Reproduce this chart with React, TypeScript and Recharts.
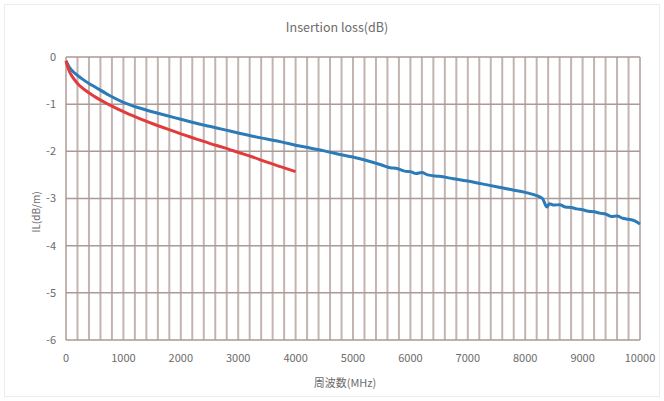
import React from 'react';
import { LineChart, Line, XAxis, YAxis, CartesianGrid } from 'recharts';

// frequency (MHz) / insertion loss (dB/m)
const blueFreq = [0, 50, 100, 200, 300, 400, 500, 750, 1000, 1250, 1500, 1750, 2000, 2250, 2500, 2750, 3000, 3250, 3500, 3750, 4000, 4250, 4500, 4750, 5000, 5250, 5500, 5650, 5750, 5900, 6000, 6100, 6200, 6300, 6500, 6750, 7000, 7250, 7500, 7750, 8000, 8200, 8300, 8380, 8420, 8500, 8600, 8700, 8800, 8900, 9000, 9100, 9200, 9300, 9400, 9500, 9600, 9700, 9800, 9900, 10000];
const blueLoss = [-0.08, -0.2, -0.28, -0.39, -0.48, -0.56, -0.63, -0.81, -0.96, -1.07, -1.16, -1.24, -1.32, -1.4, -1.47, -1.54, -1.61, -1.68, -1.74, -1.8, -1.87, -1.93, -1.99, -2.06, -2.12, -2.2, -2.29, -2.35, -2.36, -2.42, -2.43, -2.47, -2.45, -2.5, -2.53, -2.58, -2.63, -2.69, -2.75, -2.81, -2.87, -2.94, -3.0, -3.18, -3.11, -3.14, -3.13, -3.18, -3.19, -3.22, -3.24, -3.27, -3.28, -3.31, -3.33, -3.38, -3.37, -3.42, -3.44, -3.47, -3.54];

const redFreq = [0, 50, 100, 200, 300, 500, 750, 1000, 1250, 1500, 1750, 2000, 2250, 2500, 2750, 3000, 3250, 3500, 3750, 4000];
const redLoss = [-0.08, -0.28, -0.4, -0.56, -0.67, -0.84, -1.01, -1.16, -1.29, -1.41, -1.52, -1.63, -1.73, -1.83, -1.92, -2.02, -2.12, -2.23, -2.33, -2.43];

const xTicks = Array.from({ length: 51 }, (_, i) => i * 200);
const yTicks = [0, -1, -2, -3, -4, -5, -6];

const blueData = blueFreq.map((f, i) => ({ f, v: blueLoss[i] }));
const redData = redFreq.map((f, i) => ({ f, v: redLoss[i] }));

const font = '"Noto Sans CJK JP", "Noto Sans", sans-serif';
const tickStyle = { fontSize: 11, fill: '#6b6b6b', fontFamily: font };

export default function App() {
  return (
    <div style={{ position: 'relative', width: 664, height: 401, background: '#fff', fontFamily: font }}>
      <style>{`body{margin:0}`}</style>
      <div style={{ position: 'absolute', inset: 4, border: '1px solid #ececec' }} />
      <div style={{ position: 'absolute', left: 0, width: 674, top: 17, textAlign: 'center', fontSize: 12.5, color: '#6b6b6b' }}>
        Insertion loss(dB)
      </div>
      <div style={{ position: 'absolute', left: 35, top: 212, transform: 'translate(-50%, -50%) rotate(-90deg)', fontSize: 10, color: '#6b6b6b', whiteSpace: 'nowrap' }}>
        IL(dB/m)
      </div>
      <div style={{ position: 'absolute', left: 0, width: 690, top: 374, textAlign: 'center', fontSize: 11, color: '#6b6b6b' }}>
        周波数(MHz)
      </div>
      <div style={{ position: 'absolute', left: 0, top: 0 }}>
        <LineChart width={664} height={401} margin={{ top: 57, right: 24, bottom: 0, left: 0 }}>
          <CartesianGrid horizontal={false} stroke="#c2b5b1" strokeWidth={2} />
          <CartesianGrid vertical={false} stroke="#ab9a95" strokeWidth={1.5} />
          <XAxis
            dataKey="f"
            type="number"
            domain={[0, 10000]}
            ticks={xTicks}
            interval={0}
            tickFormatter={(v: number) => (v % 1000 === 0 ? String(v) : '')}
            tickLine={false}
            axisLine={false}
            tickSize={0}
            tickMargin={14}
            tick={tickStyle}
            height={61}
          />
          <YAxis
            type="number"
            domain={[-6, 0]}
            ticks={yTicks}
            interval={0}
            tickLine={false}
            axisLine={false}
            tickSize={0}
            tickMargin={10}
            tick={tickStyle}
            width={66}
          />
          <Line data={blueData} dataKey="v" type="monotone" stroke="#2b7bb9" strokeWidth={3} dot={false} isAnimationActive={false} />
          <Line data={redData} dataKey="v" type="monotone" stroke="#e23b3b" strokeWidth={3} dot={false} isAnimationActive={false} />
        </LineChart>
      </div>
    </div>
  );
}
